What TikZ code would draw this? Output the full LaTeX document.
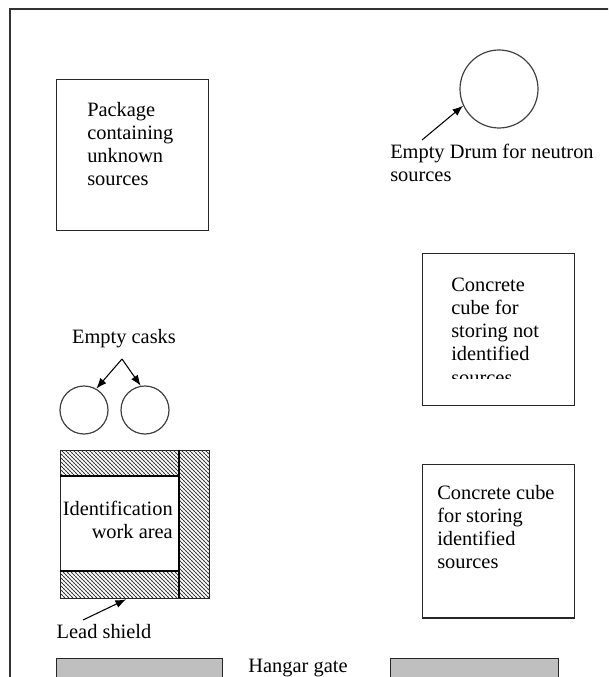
\documentclass[tikz,border=0pt]{standalone}
\usepackage{fontspec}
\setmainfont{Liberation Serif}
\usetikzlibrary{arrows.meta,patterns,calc}
\begin{document}
\begin{tikzpicture}[x=0.75pt, y=-0.75pt, >={Latex[length=8pt,width=6pt]}, line join=miter,
    every node/.style={font=\fontsize{15.3}{17.3}\selectfont, inner sep=0pt},
    box/.style={draw=black!85, line width=1pt, anchor=north west},
    lbl/.style={align=left, anchor=north west},
    cask/.style={circle, draw=black!75, line width=0.9pt, minimum size=36pt},
    gate/.style={box, fill=black!25, minimum height=40pt},
    pointer/.style={->, line width=0.8pt},
    leadfill/.style={pattern=north west lines, postaction={pattern=crosshatch dots, pattern color=black!60}}]
  \clip (0,0) rectangle (608,677);
  % outer frame of the hangar
  \draw[line width=1pt, black!80] (10,700) -- (10,9) -- (620,9);

  % package and drum
  \node[box, minimum width=114pt, minimum height=113pt] (pkg) at (56,79) {};
  \node[lbl] (pkgtxt) at ([shift={(31,23)}]pkg.north west) {Package\\containing\\unknown\\sources};
  \node[cask, minimum size=58.5pt] (drum) at (499,89) {};
  \node[lbl] (drumlbl) at (390,144) {Empty Drum for neutron\\sources};
  \coordinate (drumtail) at (422,140);
  \draw[pointer] (drumtail) -- (drum.205);

  % concrete cubes
  \node[box, minimum width=114pt, minimum height=114pt] (notid) at (422,253) {};
  \begin{scope}
    \clip (422,253) rectangle (574,378);
    \node[lbl] (notidtxt) at ([shift={(29,25)}]notid.north west) {Concrete\\cube for\\storing not\\identified\\sources};
  \end{scope}
  \node[box, minimum width=114pt, minimum height=115pt] (isid) at (422,464) {};
  \node[lbl] (isidtxt) at ([shift={(15,21)}]isid.north west) {Concrete cube\\for storing\\identified\\sources};

  % empty casks
  \node (caskslbl) at (124,339) {Empty casks};
  \node[cask] (lcask) at (84,410) {};
  \node[cask] (rcask) at (145,410) {};
  \coordinate (caskfork) at (122,359);
  \draw[pointer] (caskfork) -- (lcask.60);
  \draw[pointer] (caskfork) -- (rcask.100);

  % identification work area with lead shield
  \fill[leadfill] (60,450) rectangle (179,476);
  \fill[leadfill] (60,571) rectangle (179,598);
  \fill[leadfill] (179,450) rectangle (209,598);
  \node[box, minimum width=111.75pt, minimum height=111pt] (ident) at (60,450) {};
  \draw[line width=1pt] (60,476) -- (179,476) (60,571) -- (179,571) (179,450) -- (179,598);
  \node[align=right, anchor=east] (identtxt) at (173,520) {Identification\\work area};
  \node (leadlbl) at (104,632) {Lead shield};
  \coordinate (leadtail) at (83,620);
  \draw[pointer] (leadtail) -- ($(ident.south west)!0.44!(ident.south east)$);

  % hangar gate
  \node[gate, minimum width=124.5pt] (gatel) at (56,658) {};
  \node[gate, minimum width=126pt] (gater) at (390,658) {};
  \node (gatelbl) at (298,668) {Hangar gate};
\end{tikzpicture}
\end{document}
